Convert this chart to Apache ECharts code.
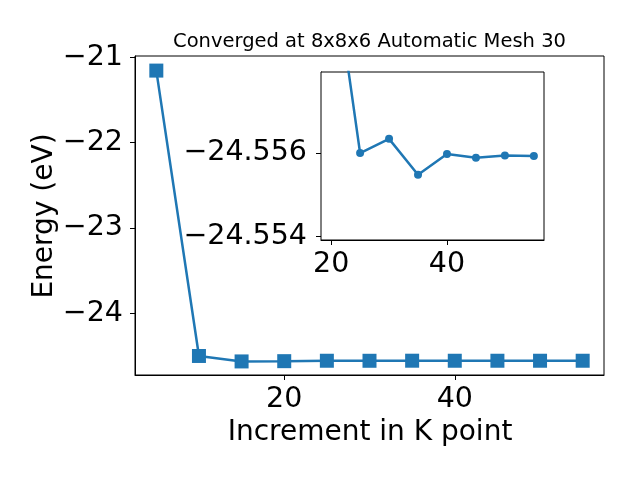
<!DOCTYPE html>
<html>
<head>
<meta charset="utf-8">
<script src="https://cdn.jsdelivr.net/npm/echarts@6/dist/echarts.min.js"></script>
<style>html,body{margin:0;padding:0;background:#fff}#c{width:640px;height:480px}</style>
</head>
<body>
<div id="c"></div>
<script>
var kPoints = [5, 10, 15, 20, 25, 30, 35, 40, 45, 50, 55];
var energies = [-21.156, -24.500, -24.564, -24.5609, -24.5560, -24.55634, -24.55548, -24.55598, -24.55589, -24.55594, -24.55593];
var mainXTicks = [20, 40];
var mainYTicks = [-24, -23, -22, -21];
var insetXTicks = [20, 40];
var insetYTicks = [-24.556, -24.554];
var titleText = 'Converged at 8x8x6 Automatic Mesh 30';
var xLabel = 'Increment in K point';
var yLabel = 'Energy (eV)';

var FONT = 'DejaVu Sans';
var COLOR = '#1f77b4';
function minus(s){ return String(s).replace('-', '\u2212'); }

var data = kPoints.map(function(k, i){ return [k, energies[i]]; });

function axisCommon(){
  return {
    axisLine: {show: true, onZero: false, lineStyle: {color: '#000', width: 1}},
    axisTick: {show: true, inside: false, length: 5, lineStyle: {color: '#000', width: 1}},
    splitLine: {show: false},
    axisLabel: {fontFamily: FONT, fontSize: 28.5, color: '#000'}
  };
}

var chart = echarts.init(document.getElementById('c'), null, {renderer: 'canvas'});

var xMain = axisCommon();
xMain.type = 'value'; xMain.gridIndex = 0; xMain.min = 2.5; xMain.max = 57.5;
xMain.axisTick.customValues = mainXTicks;
xMain.axisLabel.customValues = mainXTicks;
xMain.axisLabel.margin = 10.5;

var yMain = axisCommon();
yMain.type = 'value'; yMain.gridIndex = 0; yMain.min = -24.723; yMain.max = -20.985;
yMain.axisTick.customValues = mainYTicks;
yMain.axisLabel.customValues = mainYTicks;
yMain.axisLabel.margin = 12;
yMain.axisLabel.formatter = function(v){ return minus(Math.round(v)); };

var xIn = axisCommon();
xIn.type = 'value'; xIn.gridIndex = 1; xIn.min = 18.25; xIn.max = 56.75;
xIn.axisTick.customValues = insetXTicks;
xIn.axisLabel.customValues = insetXTicks;
xIn.axisLabel.margin = 10;

var yIn = axisCommon();
yIn.type = 'value'; yIn.gridIndex = 1; yIn.min = -24.55794; yIn.max = -24.55392; yIn.inverse = true;
yIn.axisTick.customValues = insetYTicks;
yIn.axisLabel.customValues = insetYTicks;
yIn.axisLabel.margin = 14;
yIn.axisLabel.formatter = function(v){ return minus(v.toFixed(3)); };

chart.setOption({
  animation: false,
  backgroundColor: '#fff',
  grid: [
    {left: 135, top: 56, width: 469, height: 319, show: true, backgroundColor: '#fff', borderColor: '#000', borderWidth: 1, containLabel: false},
    {left: 321, top: 72, width: 223, height: 168, show: true, backgroundColor: '#fff', borderColor: '#000', borderWidth: 1, containLabel: false, z: 5}
  ],
  xAxis: [xMain, xIn],
  yAxis: [yMain, yIn],
  series: [
    {type: 'line', xAxisIndex: 0, yAxisIndex: 0, data: data, symbol: 'rect', symbolSize: 14,
     itemStyle: {color: COLOR}, lineStyle: {color: COLOR, width: 2.5}, clip: false, z: 2},
    {type: 'line', xAxisIndex: 1, yAxisIndex: 1, data: data, symbol: 'circle', symbolSize: 8,
     showAllSymbol: true,
     itemStyle: {color: COLOR}, lineStyle: {color: COLOR, width: 2.5}, clip: true, z: 6}
  ],
  graphic: [
    {type: 'text', x: 369.5, y: 42, z: 10,
     style: {text: titleText, fontFamily: FONT, fontSize: 19.5, fill: '#000', align: 'center', verticalAlign: 'middle'}},
    {type: 'text', x: 370, y: 433, z: 10,
     style: {text: xLabel, fontFamily: FONT, fontSize: 28, fill: '#000', align: 'center', verticalAlign: 'middle'}},
    {type: 'text', x: 45, y: 216, rotation: Math.PI / 2, z: 10,
     style: {text: yLabel, fontFamily: FONT, fontSize: 28, fill: '#000', align: 'center', verticalAlign: 'middle'}}
  ]
});
</script>
</body>
</html>
